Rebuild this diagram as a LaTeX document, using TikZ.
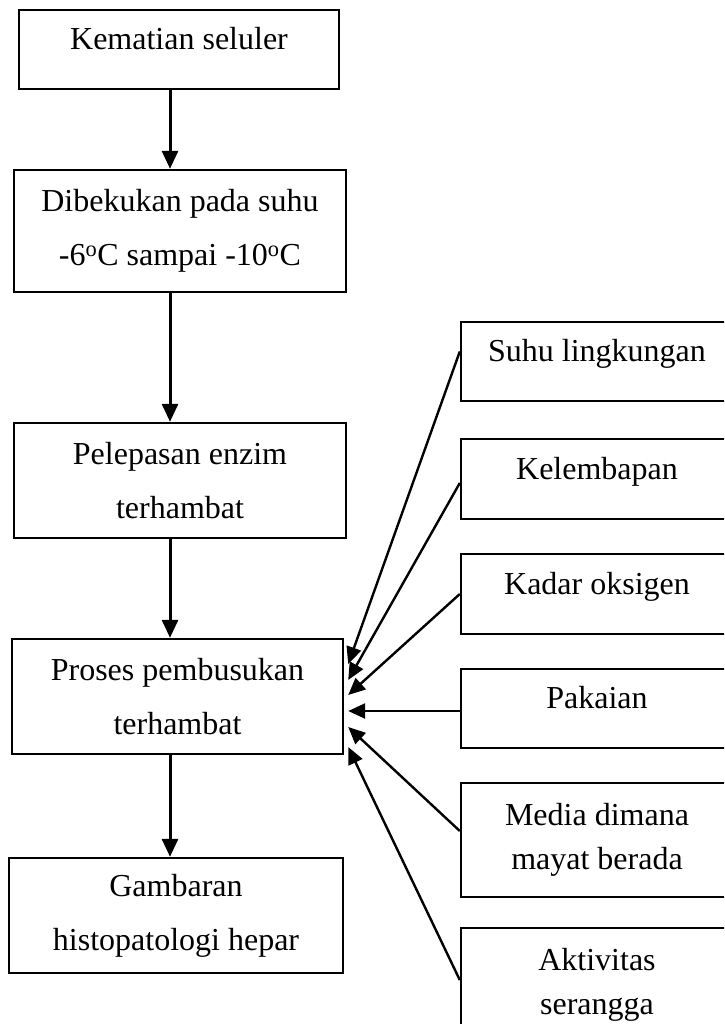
\documentclass[tikz,border=0pt]{standalone}
\usepackage{fontspec}
\setmainfont{Liberation Serif}
\usetikzlibrary{arrows.meta}

\tikzset{
  box/.style={draw, line width=2.4pt, inner sep=0pt, align=center, font=\fontsize{32}{54}\selectfont},
  oneline/.style={text height=22pt, text depth=22pt},
  side/.style={box, minimum width=272pt, font=\fontsize{32}{44}\selectfont},
  flow/.style={-{Triangle[length=18pt,width=16pt]}, line width=3pt},
  feed/.style={-{Triangle[length=17pt,width=15pt]}, line width=2.4pt}
}

\begin{document}
\begin{tikzpicture}[x=1pt, y=-1pt]
            \useasboundingbox (0,0) rectangle (724,1024);
            \clip (0,0) rectangle (724,1024);

            \node[box, oneline, minimum width=320pt, minimum height=79pt] (kematian) at (179,49.5) {Kematian seluler};
            \node[box, minimum width=332pt, minimum height=122pt] (beku) at (180,231) {Dibekukan pada suhu\\-6\textsuperscript{o}C sampai -10\textsuperscript{o}C};
            \node[box, minimum width=332pt, minimum height=115pt] (enzim) at (180,480.5) {Pelepasan enzim\\terhambat};
            \node[box, minimum width=331pt, minimum height=115pt] (busuk) at (177.5,696.5) {Proses pembusukan\\terhambat};
            \node[box, minimum width=334pt, minimum height=115pt] (hepar) at (176,915.5) {Gambaran\\histopatologi hepar};

            \coordinate (spine) at (170,0);
            \draw[flow] (kematian.south -| spine) -- (beku.north -| spine);
            \draw[flow] (beku.south -| spine) -- (enzim.north -| spine);
            \draw[flow] (enzim.south -| spine) -- (busuk.north -| spine);
            \draw[flow] (busuk.south -| spine) -- (hepar.north -| spine);

            \node[side, oneline, minimum height=79pt] (suhu) at (597,361.5) {Suhu lingkungan};
            \node[side, oneline, minimum height=80pt] (lembap) at (597,479) {Kelembapan};
            \node[side, oneline, minimum height=80pt] (oksigen) at (597,594) {Kadar oksigen};
            \node[side, oneline, minimum height=79pt] (pakaian) at (597,708.5) {Pakaian};
            \node[side, minimum height=114pt] (media) at (597,840) {Media dimana\\mayat berada};
            \node[side, minimum height=114pt] (serangga) at (597,985) {Aktivitas\\serangga};

            \draw[feed] ([shift={(0,-10)}]suhu.west) -- ([shift={(4,-32.5)}]busuk.east);
            \draw[feed] ([shift={(0,4)}]lembap.west) -- ([shift={(4,-16.5)}]busuk.east);
            \draw[feed] (oksigen.west) -- ([shift={(4,-1.5)}]busuk.east);
            \draw[feed] ([shift={(0,2.5)}]pakaian.west) -- ([shift={(4,14.5)}]busuk.east);
            \draw[feed] ([shift={(0,-9)}]media.west) -- ([shift={(4,30.5)}]busuk.east);
            \draw[feed] ([shift={(0,-5)}]serangga.west) -- ([shift={(4,50.5)}]busuk.east);
\end{tikzpicture}
\end{document}
